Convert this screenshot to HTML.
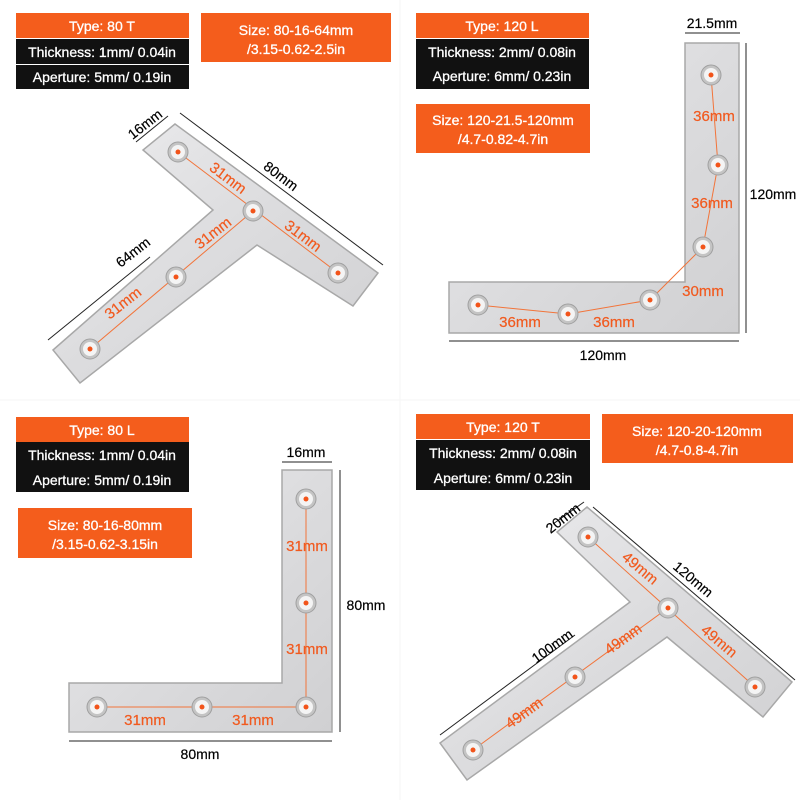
<!DOCTYPE html>
<html><head><meta charset="utf-8"><style>
html,body{margin:0;padding:0;background:#fff}
svg{display:block}
text{font-family:"Liberation Sans",sans-serif}
.w{fill:#fff;font-size:14px;text-anchor:middle;stroke:#fff;stroke-width:0.3}
.d{fill:#000;font-size:14px;text-anchor:middle;stroke:#000;stroke-width:0.2}
.r{fill:#f15a1f;font-size:15px;text-anchor:middle;stroke:#f15a1f;stroke-width:0.2}
.m{fill:url(#g);stroke:#a8a8a8;stroke-width:1.5}
.ln{stroke:#222;stroke-width:1}
.rl{stroke:#f2743a;stroke-width:1}
</style></head><body>
<svg width="800" height="800" viewBox="0 0 800 800" xmlns="http://www.w3.org/2000/svg">
<defs>
<linearGradient id="g" x1="0" y1="0" x2="1" y2="1">
<stop offset="0" stop-color="#ececee"/><stop offset="0.5" stop-color="#dcdcde"/><stop offset="1" stop-color="#d0d0d2"/>
</linearGradient>
<g id="h"><circle r="10" fill="#c4c4c4" stroke="#a0a0a0"/><circle r="7" fill="#f4f4f4"/><circle r="2.5" fill="#f2541a"/></g>
</defs>
<rect width="800" height="800" fill="#fff"/>
<line x1="400" y1="0" x2="400" y2="800" stroke="#f6f6f6"/>
<line x1="0" y1="400" x2="800" y2="400" stroke="#f6f6f6"/>

<!-- Q1 labels -->
<rect x="16" y="13" width="173" height="25" fill="#f45d1c"/><text class="w" x="102" y="31">Type: 80 T</text>
<rect x="16" y="39" width="173" height="25" fill="#111"/><text class="w" x="102" y="57">Thickness: 1mm/ 0.04in</text>
<rect x="16" y="65" width="173" height="24" fill="#111"/><text class="w" x="102" y="82">Aperture: 5mm/ 0.19in</text>
<rect x="201" y="13" width="190" height="49" fill="#f45d1c"/><text class="w" x="296" y="35">Size: 80-16-64mm</text><text class="w" x="296" y="54">/3.15-0.62-2.5in</text>
<!-- Q1 T -->
<polygon class="m" points="175,124 378,273 353,306 257,245 80,383 53,350 213,210 143,150"/>
<line class="rl" x1="178" y1="152" x2="338" y2="273"/><line class="rl" x1="253" y1="211" x2="90" y2="349"/>
<use href="#h" x="178" y="152"/><use href="#h" x="253" y="211"/><use href="#h" x="338" y="273"/><use href="#h" x="176" y="277"/><use href="#h" x="90" y="349"/>
<line class="ln" x1="180" y1="113" x2="383" y2="265"/><line class="ln" x1="136" y1="142" x2="168" y2="116"/><line class="ln" x1="48" y1="340" x2="150" y2="257"/>
<text class="d" transform="translate(148,128) rotate(-38)">16mm</text>
<text class="d" transform="translate(278,180) rotate(37)">80mm</text>
<text class="d" transform="translate(136,256) rotate(-38)">64mm</text>
<text class="r" transform="translate(225,182) rotate(37)">31mm</text>
<text class="r" transform="translate(300,240) rotate(37)">31mm</text>
<text class="r" transform="translate(216,237) rotate(-38)">31mm</text>
<text class="r" transform="translate(126,307) rotate(-38)">31mm</text>

<!-- Q2 labels -->
<rect x="416" y="13" width="173" height="25" fill="#f45d1c"/><text class="w" x="502" y="31">Type: 120 L</text>
<rect x="416" y="39" width="173" height="25" fill="#111"/><text class="w" x="502" y="57">Thickness: 2mm/ 0.08in</text>
<rect x="416" y="64" width="173" height="25" fill="#111"/><text class="w" x="502" y="81">Aperture: 6mm/ 0.23in</text>
<rect x="416" y="104" width="174" height="49" fill="#f45d1c"/><text class="w" x="503" y="125">Size: 120-21.5-120mm</text><text class="w" x="503" y="144">/4.7-0.82-4.7in</text>
<path class="m" d="M685,43 H739 V333 H449 V282 H685 Z"/>
<polyline class="rl" fill="none" points="711,75 718,165 703,247 650,300 568,314 478,305"/>
<use href="#h" x="711" y="75"/><use href="#h" x="718" y="165"/><use href="#h" x="703" y="247"/><use href="#h" x="650" y="300"/><use href="#h" x="568" y="314"/><use href="#h" x="478" y="305"/>
<line class="ln" x1="685" y1="33" x2="740" y2="33"/><text class="d" x="712" y="28">21.5mm</text>
<line class="ln" x1="746" y1="43" x2="746" y2="333"/><text class="d" x="773" y="199">120mm</text>
<line class="ln" x1="449" y1="341" x2="739" y2="341"/><text class="d" x="603" y="360">120mm</text>
<text class="r" x="714" y="121">36mm</text>
<text class="r" x="712" y="208">36mm</text>
<text class="r" x="703" y="296">30mm</text>
<text class="r" x="520" y="327">36mm</text><text class="r" x="614" y="327">36mm</text>

<!-- Q3 labels -->
<rect x="16" y="417" width="173" height="25" fill="#f45d1c"/><text class="w" x="102" y="435">Type: 80 L</text>
<rect x="16" y="442" width="173" height="25" fill="#111"/><text class="w" x="102" y="460">Thickness: 1mm/ 0.04in</text>
<rect x="16" y="467" width="173" height="25" fill="#111"/><text class="w" x="102" y="485">Aperture: 5mm/ 0.19in</text>
<rect x="18" y="508" width="174" height="50" fill="#f45d1c"/><text class="w" x="105" y="530">Size: 80-16-80mm</text><text class="w" x="105" y="549">/3.15-0.62-3.15in</text>
<path class="m" d="M282,470 H332 V732 H69 V683 H282 Z"/>
<polyline class="rl" fill="none" points="306,499 306,707 97,707"/>
<use href="#h" x="306" y="499"/><use href="#h" x="306" y="603"/><use href="#h" x="306" y="707"/><use href="#h" x="202" y="707"/><use href="#h" x="97" y="707"/>
<line class="ln" x1="282" y1="462" x2="332" y2="462"/><text class="d" x="306" y="457">16mm</text>
<line class="ln" x1="340" y1="470" x2="340" y2="732"/><text class="d" x="366" y="610">80mm</text>
<line class="ln" x1="69" y1="741" x2="332" y2="741"/><text class="d" x="200" y="759">80mm</text>
<text class="r" x="307" y="551">31mm</text><text class="r" x="307" y="654">31mm</text>
<text class="r" x="145" y="725">31mm</text><text class="r" x="253" y="725">31mm</text>

<!-- Q4 labels -->
<rect x="416" y="414" width="174" height="25" fill="#f45d1c"/><text class="w" x="503" y="432">Type: 120 T</text>
<rect x="416" y="440" width="174" height="25" fill="#111"/><text class="w" x="503" y="458">Thickness: 2mm/ 0.08in</text>
<rect x="416" y="465" width="174" height="25" fill="#111"/><text class="w" x="503" y="483">Aperture: 6mm/ 0.23in</text>
<rect x="602" y="414" width="191" height="49" fill="#f45d1c"/><text class="w" x="697" y="436">Size: 120-20-120mm</text><text class="w" x="697" y="455">/4.7-0.8-4.7in</text>
<polygon class="m" points="587,507 792,682 763,717 667,637 467,780 440,743 630,602 557,532"/>
<line class="rl" x1="588" y1="537" x2="755" y2="687"/><line class="rl" x1="668" y1="608" x2="473" y2="750"/>
<use href="#h" x="588" y="537"/><use href="#h" x="668" y="608"/><use href="#h" x="755" y="687"/><use href="#h" x="575" y="677"/><use href="#h" x="473" y="750"/>
<line class="ln" x1="593" y1="507" x2="795" y2="680"/><line class="ln" x1="553" y1="524" x2="584" y2="502"/><line class="ln" x1="440" y1="735" x2="575" y2="635"/>
<text class="d" transform="translate(566,522) rotate(-38)">20mm</text>
<text class="d" transform="translate(690,583) rotate(40)">120mm</text>
<text class="d" transform="translate(555,650) rotate(-36)">100mm</text>
<text class="r" transform="translate(637,572) rotate(40)">49mm</text>
<text class="r" transform="translate(716,645) rotate(40)">49mm</text>
<text class="r" transform="translate(626,643) rotate(-36)">49mm</text>
<text class="r" transform="translate(527,717) rotate(-36)">49mm</text>
</svg>
</body></html>
